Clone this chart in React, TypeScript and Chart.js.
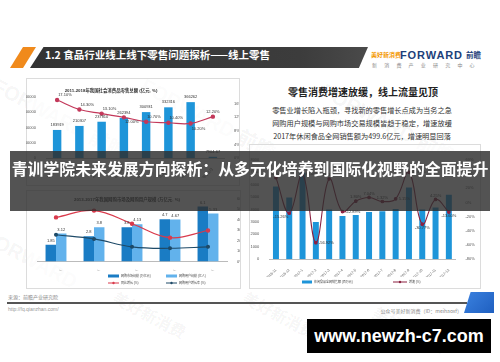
import React, { useEffect, useRef } from "react";
import { Chart, registerables } from "chart.js";

Chart.register(...registerables);

const FONT = "'Liberation Sans', 'Noto Sans CJK SC', sans-serif";
const CJK = "'Noto Sans CJK SC', 'Liberation Sans', sans-serif";
Chart.defaults.font.family = FONT;

// ---------- Chart 1: 社会消费品零售总额 ----------
const retailYears = ["2011年", "2012年", "2013年", "2014年", "2015年", "2016年", "2017年", "2018年1-2月"];
const retailTotal = [183919, 210307, 237810, 262394, 300931, 332316, 366262, 7904.67];
const retailGrowth = [17.1, 14.3, 13.1, 12.0, 10.7, 10.4, 10.2, 12.2];
const retailLeftTicks = { min: 0, max: 400000, step: 50000 };
const retailRightTicks = { min: 0, max: 18, step: 2 };

// ---------- Chart 2: 网购市场 / 用户规模 ----------
const onlineYears = ["2013年", "2014年", "2015年", "2016年", "2017年"];
const marketSize = [1.85, 2.8, 3.8, 4.7, 6.1];
const userSize = [3.12, 3.8, 4.13, 4.67, 5.33];
const marketGrowth = [42.0, 48.5, 36.0, 22.7, 29.5];
const userGrowth = [25.5, 21.5, 14.0, 12.6, 14.0];
const onlineLeftTicks = { min: 0, max: 7, step: 1 };
const onlineRightTicks = { min: 0, max: 60, step: 10 };

// ---------- Chart 3: 休闲食品全网销售额 ----------
const months = ["2016-11", "2016-12", "2017-1", "2017-2", "2017-3", "2017-4", "2017-5", "2017-6", "2017-7", "2017-8", "2017-9", "2017-10", "2017-11", "2017-12"];
const snackSales = [5860, 4970, 6960, 3000, 4000, 3480, 3550, 3800, 3850, 4050, 5780, 4000, 4170, 5200];
const snackGrowth = [35.0, -15.26, 40.06, -56.92, 33.33, -12.89, 1.8, 7.04, 1.32, 5.15, 42.69, -30.77, 4.25, -13.6];
const snackLeftTicks = { min: 0, max: 8000, step: 1000 };
const snackRightTicks = { min: -80, max: 60, step: 20 };

const pct2 = (v: number) => v.toFixed(2) + "%";

const decorPlugin: any = {
  id: "decor",
  afterDatasetsDraw(chart: any, _a: any, opts: any) {
    const ctx = chart.ctx;
    ctx.save();
    (opts.labels || []).forEach((spec: any) => {
      const meta = chart.getDatasetMeta(spec.dataset);
      const values = chart.data.datasets[spec.dataset].data;
      ctx.font = `${spec.size || 4}px ${FONT}`;
      ctx.fillStyle = spec.color || "#444";
      meta.data.forEach((el: any, i: number) => {
        const v = values[i];
        if (v == null) return;
        const txt = spec.format ? spec.format(v) : String(v);
        const place = (spec.place && spec.place[i]) || "top";
        const g = spec.gap ?? 2;
        let x = el.x, y = el.y;
        let align = "center", base = "bottom";
        if (place === "top") { y -= g; }
        else if (place === "bottom") { y += g; base = "top"; }
        else if (place === "right") { x += g + 1; align = "left"; base = "middle"; }
        else if (place === "left") { x -= g + 1; align = "right"; base = "middle"; }
        else if (place === "tr") { x += 1; y -= g; align = "left"; }
        else if (place === "br") { x += 1; y += g; align = "left"; base = "top"; }
        else if (place === "tl") { x -= 1; y -= g; align = "right"; }
        else if (place === "bl") { x -= 1; y += g; align = "right"; base = "top"; }
        ctx.textAlign = align;
        ctx.textBaseline = base;
        ctx.fillText(txt, x, y);
      });
    });
    ctx.restore();
  },
  afterDraw(chart: any, _a: any, opts: any) {
    const ctx = chart.ctx;
    ctx.save();
    if (opts.title) {
      ctx.font = `bold ${opts.title.size}px ${FONT}`;
      ctx.fillStyle = "#333";
      ctx.textAlign = "center";
      ctx.textBaseline = "middle";
      ctx.fillText(opts.title.text, opts.title.x, opts.title.y);
    }
    (opts.legend || []).forEach((it: any) => {
      const ds = chart.data.datasets[it.dataset];
      const w = it.w || 11;
      if (it.kind === "bar") {
        ctx.fillStyle = ds.backgroundColor;
        ctx.fillRect(it.x, it.y - 1.5, w, 3);
      } else {
        ctx.strokeStyle = ds.borderColor;
        ctx.lineWidth = 1;
        ctx.beginPath();
        ctx.moveTo(it.x, it.y);
        ctx.lineTo(it.x + w, it.y);
        ctx.stroke();
        ctx.fillStyle = ds.borderColor;
        ctx.beginPath();
        ctx.arc(it.x + w / 2, it.y, 1.2, 0, Math.PI * 2);
        ctx.fill();
      }
      ctx.font = `${it.size || 3}px ${FONT}`;
      ctx.fillStyle = "#444";
      ctx.textAlign = "left";
      ctx.textBaseline = "middle";
      ctx.fillText(ds.label, it.x + w + 2, it.y);
    });
    ctx.restore();
  },
};

const tickFont = (size: number) => ({ size, family: FONT });

function yScale(t: any, pos: string, width: number, fmt?: (v: number) => string, size = 4) {
  return {
    position: pos,
    min: t.min,
    max: t.max,
    grid: { display: false },
    border: { display: false },
    ticks: {
      stepSize: t.step,
      font: tickFont(size),
      color: "#555",
      padding: 2,
      callback: fmt ? (v: any) => fmt(Number(v)) : (v: any) => String(v),
    },
    afterFit: (s: any) => { s.width = width; },
  };
}

function xScale(height: number, rotation: number, size: number) {
  return {
    grid: { display: false },
    border: { display: true, color: "#bbb" },
    ticks: { font: tickFont(size), color: "#555", autoSkip: false, maxRotation: rotation, minRotation: rotation, padding: 1 },
    afterFit: (s: any) => { s.height = height; },
  };
}

function retailConfig(): any {
  return {
    type: "bar",
    data: {
      labels: retailYears,
      datasets: [
        { type: "line", label: "同比增长 (%)", data: retailGrowth, yAxisID: "y1", borderColor: "#c3385a", backgroundColor: "#c3385a", borderWidth: 1.2, pointRadius: 1.6, pointBackgroundColor: "#c3385a", tension: 0.4, order: 0 },
        { type: "bar", label: "社会消费品零售总额 (亿元)", data: retailTotal, yAxisID: "y", backgroundColor: "#1e95d9", barPercentage: 1, categoryPercentage: 0.38, order: 1 },
      ],
    },
    options: {
      responsive: false, animation: false, devicePixelRatio: 1,
      layout: { padding: { top: 19, left: 0, right: 0, bottom: 0 } },
      plugins: {
        legend: { display: false }, tooltip: { enabled: false },
        decor: {
          title: { text: "2011-2018年我国社会消费品零售总额 (亿元, %)", x: 85, y: 13, size: 4.4 },
          labels: [
            { dataset: 1, size: 4, color: "#333", gap: 3 },
            { dataset: 0, size: 4, color: "#333", gap: 3, format: pct2, place: ["tr", "tr", "tr", "br", "tr", "tr", "br", "top"] },
          ],
        },
      },
      scales: {
        x: xScale(20, 45, 4),
        y: yScale(retailLeftTicks, "left", 20),
        y1: yScale(retailRightTicks, "right", 15, (v) => v + "%"),
      },
    },
    plugins: [decorPlugin],
  };
}

function onlineConfig(): any {
  return {
    type: "bar",
    data: {
      labels: onlineYears,
      datasets: [
        { type: "line", label: "同比增长 (%)", data: marketGrowth, yAxisID: "y1", borderColor: "#d93a4c", backgroundColor: "#d93a4c", borderWidth: 1.2, pointRadius: 1.6, pointBackgroundColor: "#d93a4c", tension: 0.4, order: 0 },
        { type: "line", label: "网购用户增长率 (%)", data: userGrowth, yAxisID: "y1", borderColor: "#1e4a68", backgroundColor: "#1e4a68", borderWidth: 1.2, pointRadius: 1.4, pointBackgroundColor: "#1e4a68", tension: 0.4, order: 0 },
        { type: "bar", label: "网购市场规模 (万亿元)", data: marketSize, yAxisID: "y", backgroundColor: "#1a7cc4", barPercentage: 1, categoryPercentage: 0.55, order: 1 },
        { type: "bar", label: "网购用户规模 (亿人)", data: userSize, yAxisID: "y", backgroundColor: "#62b2ec", barPercentage: 1, categoryPercentage: 0.55, order: 1 },
      ],
    },
    options: {
      responsive: false, animation: false, devicePixelRatio: 1,
      layout: { padding: { top: 8.5, left: 0, right: 0, bottom: 16.5 } },
      plugins: {
        legend: { display: false }, tooltip: { enabled: false },
        decor: {
          title: { text: "2013-2017年我国网购市场及网购用户规模 (万亿元, %)", x: 100, y: 10, size: 4.4 },
          labels: [
            { dataset: 2, size: 4, color: "#333", gap: 2 },
            { dataset: 3, size: 4, color: "#333", gap: 2 },
          ],
          legend: [
            { dataset: 2, kind: "bar", x: 81, y: 86 },
            { dataset: 3, kind: "bar", x: 139, y: 86 },
            { dataset: 0, kind: "line", x: 81, y: 93 },
            { dataset: 1, kind: "line", x: 139, y: 93 },
          ],
        },
      },
      scales: {
        x: xScale(9, 0, 4),
        y: yScale(onlineLeftTicks, "left", 10),
        y1: yScale(onlineRightTicks, "right", 13, (v) => v + "%"),
      },
    },
    plugins: [decorPlugin],
  };
}

function snackConfig(): any {
  return {
    type: "bar",
    data: {
      labels: months,
      datasets: [
        { type: "line", label: "增速 (%)", data: snackGrowth, yAxisID: "y1", borderColor: "#8b2141", backgroundColor: "#8b2141", borderWidth: 1.1, pointRadius: 1.3, pointBackgroundColor: "#8b2141", tension: 0.4, order: 0 },
        { type: "bar", label: "休闲食品全网销售额 (百万元)", data: snackSales, yAxisID: "y", backgroundColor: "#1e95d9", barPercentage: 1, categoryPercentage: 0.45, order: 1 },
      ],
    },
    options: {
      responsive: false, animation: false, devicePixelRatio: 1,
      layout: { padding: { top: 17, left: 0, right: 0, bottom: 10 } },
      plugins: {
        legend: { display: false }, tooltip: { enabled: false },
        decor: {
          labels: [
            { dataset: 0, size: 4, color: "#333", gap: 2, format: pct2, place: ["top", "bl", "right", "right", "top", "right", "top", "top", "top", "right", "right", "bottom", "top", "bottom"] },
          ],
          legend: [
            { dataset: 1, kind: "bar", x: 52, y: 139, w: 10 },
            { dataset: 0, kind: "line", x: 143, y: 139, w: 14 },
          ],
        },
      },
      scales: {
        x: xScale(18, 45, 3.6),
        y: yScale(snackLeftTicks, "left", 19.3),
        y1: yScale(snackRightTicks, "right", 24.5, (v) => v + "%"),
      },
    },
    plugins: [decorPlugin],
  };
}

function ChartBox({ left, top, width, height, build }: { left: number; top: number; width: number; height: number; build: () => any }) {
  const ref = useRef<HTMLCanvasElement>(null);
  useEffect(() => {
    const chart = new Chart(ref.current as HTMLCanvasElement, build());
    return () => chart.destroy();
  }, []);
  return <canvas ref={ref} width={width} height={height} style={{ position: "absolute", left, top, width, height }} />;
}

const abs = (l: number, t: number, extra: any = {}) => ({ position: "absolute" as const, left: l, top: t, ...extra });

function Watermark({ x, y, text, size }: { x: number; y: number; text: string; size: number }) {
  return (
    <div style={abs(x, y, { font: `bold ${size}px ${FONT}`, color: "rgba(0,0,0,0.05)", transform: "rotate(28deg)", transformOrigin: "left top", whiteSpace: "nowrap" })}>{text}</div>
  );
}

export default function App() {
  return (
    <div style={{ position: "relative", width: 500, height: 362, overflow: "hidden", background: "#fff" }}>
      <style>{"body{margin:0}"}</style>
      {/* watermarks */}
      <Watermark x={2} y={70} text="FORWARD 前瞻" size={20} />
      <Watermark x={150} y={70} text="FORWARD 前瞻" size={20} />
      <Watermark x={330} y={75} text="FORWARD 前瞻" size={20} />
      <Watermark x={-10} y={225} text="FORWARD" size={20} />
      <Watermark x={120} y={285} text="美好新消费" size={16} />
      <Watermark x={250} y={285} text="美好新消费" size={16} />
      <Watermark x={380} y={300} text="美好新消费" size={16} />

      {/* header */}
      <div style={abs(10, 47, { width: 26, height: 21, background: "#f08a1c", clipPath: "polygon(50% 0, 100% 0, 50% 100%, 0 100%)" })} />
      <div style={abs(30, 47, { width: 338, height: 21, background: "linear-gradient(90deg,#333 0%,#3c3c3c 80%,#4a4a4a 100%)", clipPath: "polygon(4% 0, 100% 0, 97.3% 100%, 0 100%)" })} />
      <div style={abs(45, 47, { height: 21, lineHeight: "21px", font: `bold 10.5px ${CJK}`, color: "#fff", whiteSpace: "nowrap" })}>1.2 食品行业线上线下零售问题探析——线上零售</div>

      {/* logos */}
      <div style={abs(371, 51, { font: `bold 6px ${CJK}`, color: "#f39800", lineHeight: "8px", whiteSpace: "nowrap" })}>美好新消费</div>
      <div style={abs(400, 49, { font: `bold 11px ${FONT}`, color: "#1d3f7a", lineHeight: "12px", letterSpacing: "0.9px", whiteSpace: "nowrap" })}>FORWARD</div>
      <div style={abs(466, 50, { font: `bold 7.5px ${CJK}`, color: "#1d3f7a", lineHeight: "10px", whiteSpace: "nowrap" })}>前瞻</div>
      <div style={abs(372, 62, { font: `5px ${CJK}`, color: "#888", lineHeight: "6px", letterSpacing: "7.2px", whiteSpace: "nowrap" })}>新消费产业研究中心</div>

      {/* right text */}
      <div style={abs(250, 85, { width: 226, textAlign: "center", font: `bold 10px ${CJK}`, color: "#222", lineHeight: "14px", whiteSpace: "nowrap" })}>零售消费增速放缓，线上流量见顶</div>
      <div style={abs(250, 103.5, { width: 224, textAlign: "center", font: `7.2px ${CJK}`, color: "#333", lineHeight: "13px", whiteSpace: "nowrap" })}>
        零售业增长陷入瓶颈，寻找新的零售增长点成为当务之急<br />
        网购用户规模与网购市场交易规模皆趋于稳定，增速放缓<br />
        2017年休闲食品全网销售额为499.6亿元，增速明显回落
      </div>

      {/* chart frames */}
      <div style={abs(26, 78, { width: 212, height: 106, border: "1px solid #dcdcdc", background: "rgba(255,255,255,0.6)" })} />
      <div style={abs(26, 190, { width: 213, height: 97, border: "1px solid #dcdcdc", background: "rgba(255,255,255,0.6)" })} />
      <div style={abs(249, 144, { width: 230, height: 143, border: "1px solid #dcdcdc", background: "rgba(255,255,255,0.6)" })} />

      <ChartBox left={26} top={78} width={213} height={100} build={retailConfig} />
      <ChartBox left={27} top={190} width={213} height={97} build={onlineConfig} />
      <ChartBox left={250} top={143} width={230} height={144} build={snackConfig} />

      {/* footer */}
      <div style={abs(8, 294, { font: `5px ${CJK}`, color: "#888", lineHeight: "6px", whiteSpace: "nowrap" })}>来源：前瞻产业研究院</div>
      <div style={abs(7, 302, { width: 460, height: 2, background: "#555" })} />
      <div style={abs(8, 306, { font: `5px ${FONT}`, color: "#999", lineHeight: "6px", whiteSpace: "nowrap" })}>http://fq.qianzhan.com/</div>
      <div style={abs(300, 308, { width: 162, textAlign: "right", font: `5px ${CJK}`, color: "#888", lineHeight: "6px", whiteSpace: "nowrap" })}>公众号美好新消费（ID：meihaoxf）</div>
      <div style={abs(464, 292, { width: 30, height: 21, background: "linear-gradient(135deg,#3b82e0,#1f5fc0)", clipPath: "polygon(22% 0, 100% 0, 100% 100%, 0 100%)" })} />

      {/* overlay banner */}
      <div style={abs(10, 151, { width: 480, height: 60, background: "rgba(45,45,45,0.82)" })} />
      <div style={abs(10, 157, { width: 480, height: 54, lineHeight: "54px", textAlign: "center", font: `bold 15.9px ${CJK}`, color: "#fff", whiteSpace: "nowrap" })}>青训学院未来发展方向探析：从多元化培养到国际化视野的全面提升</div>

      {/* url box */}
      <div style={abs(307, 319, { width: 184, height: 34, background: "#000", color: "#fff", font: `bold 18px ${FONT}`, lineHeight: "34px", textAlign: "center", whiteSpace: "nowrap" })}>www.newzh-c7.com</div>
    </div>
  );
}
